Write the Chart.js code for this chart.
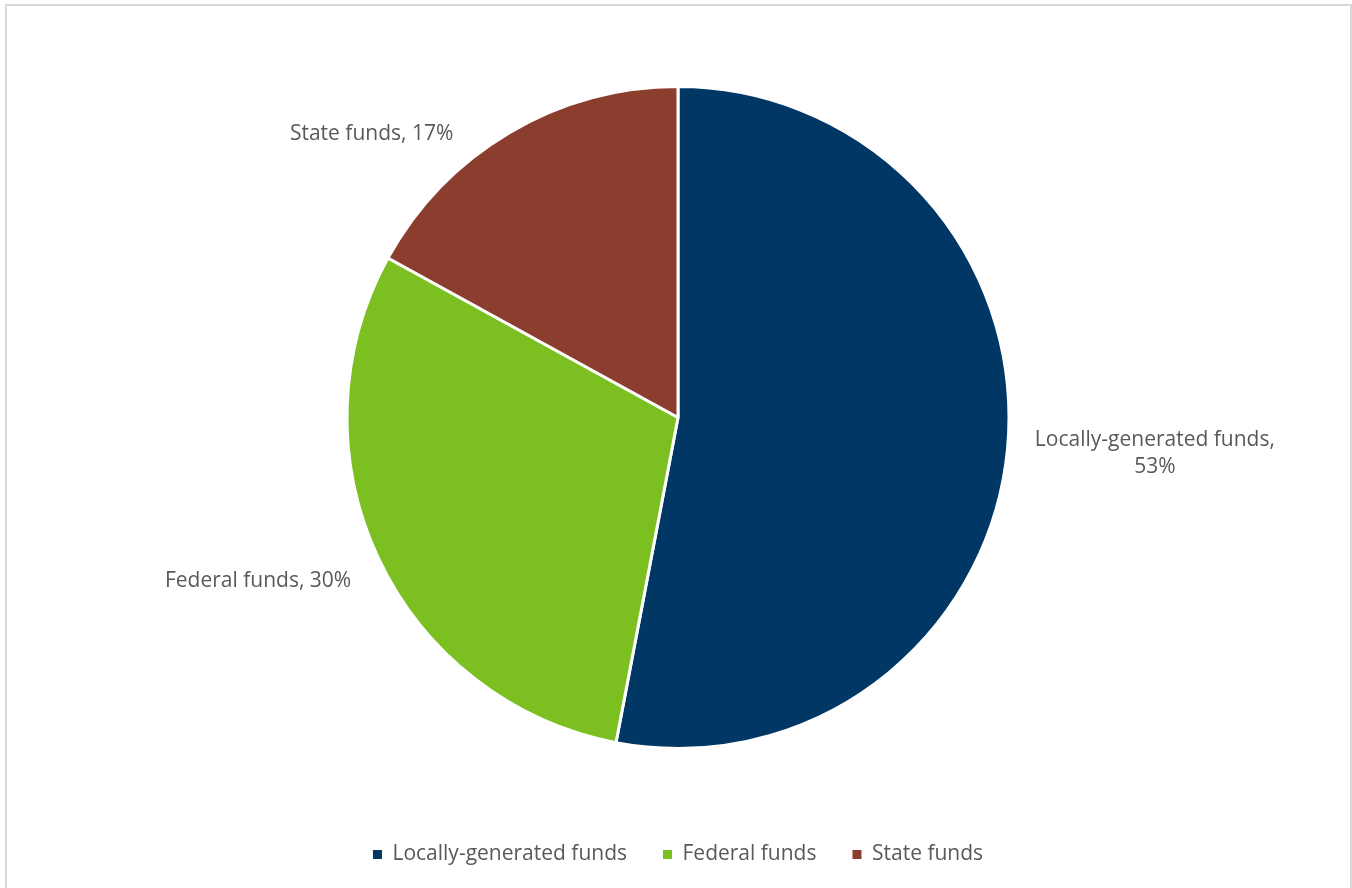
<!DOCTYPE html>
<html>
<head>
<meta charset="utf-8">
<script src="https://cdn.jsdelivr.net/npm/chart.js@4.4.1/dist/chart.umd.min.js"></script>
<style>
  html, body { margin: 0; padding: 0; background: #fff; overflow: hidden; }
  .frame { position: absolute; left: 5px; top: 4px; width: 1343px; height: 900px; border: 2px solid #d9d9d9; }
  .wrap { position: absolute; left: 0; top: 0; width: 1352px; height: 888px; }
</style>
</head>
<body>
<div class="frame"></div>
<div class="wrap"><canvas id="pie"></canvas></div>
<script>
// Funding sources, share of total (%)
const categories = ["Locally-generated funds", "Federal funds", "State funds"];
const shares = [53, 30, 17];
const sliceColors = ["#003764", "#7bbf21", "#8b3d2e"];

const INK = "#595959";
const FONT = "'Open Sans', Lato, sans-serif";

// outside-end data labels, roughly like the spreadsheet "best fit" placement
const sliceLabels = {
  id: "sliceLabels",
  afterDatasetsDraw(chart, args, opts) {
    const { ctx } = chart;
    const meta = chart.getDatasetMeta(0);
    ctx.save();
    ctx.font = `${opts.size}px ${FONT}`;
    ctx.fillStyle = INK;
    ctx.textBaseline = "middle";
    ctx.textAlign = "center";
    meta.data.forEach((arc, i) => {
      const text = `${chart.data.labels[i]}, ${chart.data.datasets[0].data[i]}%`;
      let lines = [text];
      if (ctx.measureText(text).width > opts.maxWidth) {
        const cut = text.lastIndexOf(" ");
        lines = [text.slice(0, cut), text.slice(cut + 1)];
      }
      const w = Math.max(...lines.map((l) => ctx.measureText(l).width));
      const h = lines.length * opts.lineHeight;
      const shift = ((opts.shift[i] || 0) * Math.PI) / 180;
      const mid = (arc.startAngle + arc.endAngle) / 2 + shift;
      const ux = Math.cos(mid), uy = Math.sin(mid);
      const r = arc.outerRadius + opts.gap[i];
      const cx = arc.x + ux * r + ux * (w / 2);
      const cy = arc.y + uy * r + uy * (h / 2);
      lines.forEach((line, k) => {
        ctx.fillText(line, cx, cy - h / 2 + opts.lineHeight * (k + 0.5));
      });
    });
    ctx.restore();
  },
};

// legend squares without the white slice border eating into them
const baseLabels = Chart.overrides.pie.plugins.legend.labels.generateLabels;

new Chart(document.getElementById("pie"), {
  type: "pie",
  data: {
    labels: categories,
    datasets: [{
      data: shares,
      backgroundColor: sliceColors,
      borderColor: "#ffffff",
      borderWidth: 3,
      radius: 331,
    }],
  },
  options: {
    responsive: true,
    maintainAspectRatio: false,
    animation: false,
    layout: { padding: { top: 27, bottom: 13, left: 4, right: 0 } },
    plugins: {
      tooltip: { enabled: false },
      legend: {
        position: "bottom",
        labels: {
          color: INK,
          font: { family: FONT, size: 21 },
          boxWidth: 9,
          boxHeight: 9,
          padding: 36,
          generateLabels: (chart) => baseLabels(chart).map((item) => ({ ...item, lineWidth: 0 })),
        },
      },
      sliceLabels: { size: 21, lineHeight: 27, gap: [28, 40, 40], maxWidth: 250, shift: [0, 0, -12] },
    },
  },
  plugins: [sliceLabels],
});
</script>
</body>
</html>
